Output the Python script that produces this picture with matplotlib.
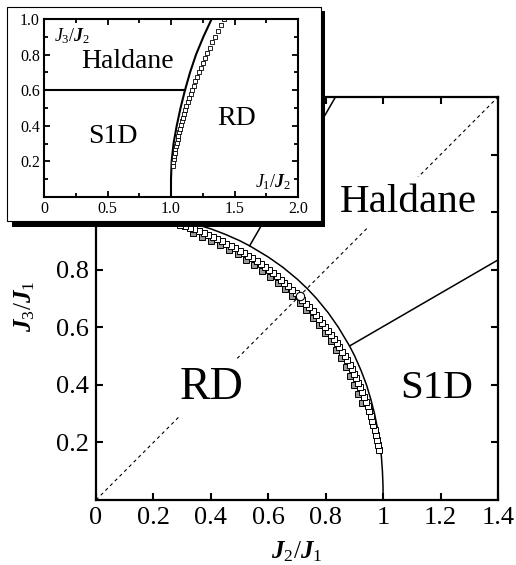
import matplotlib.pyplot as plt
from matplotlib.patches import Rectangle

plt.rcParams['font.family'] = 'Liberation Serif'
plt.rcParams['mathtext.fontset'] = 'custom'
plt.rcParams['mathtext.rm'] = 'Liberation Serif'
plt.rcParams['mathtext.it'] = 'Liberation Serif:italic'
plt.rcParams['mathtext.bf'] = 'Liberation Serif:bold'
plt.rcParams['mathtext.bfit'] = 'Liberation Serif:italic:bold'

# ---- main panel data (J2/J1, J3/J1) ----
# RD boundary (solid curve)
bnd_x = [1.000, 0.9995, 0.9975, 0.994, 0.988, 0.980, 0.970, 0.957, 0.942, 0.923, 0.901, 0.883,
         0.844, 0.809, 0.768, 0.735, 0.700, 0.650, 0.600, 0.535, 0.500, 0.450, 0.400, 0.350,
         0.300, 0.250, 0.200, 0.150, 0.100, 0.050, 0.000]
bnd_y = [0.000, 0.050, 0.100, 0.150, 0.200, 0.250, 0.300, 0.350, 0.400, 0.450, 0.500, 0.535,
         0.600, 0.650, 0.700, 0.735, 0.768, 0.809, 0.844, 0.883, 0.901, 0.923, 0.942, 0.957,
         0.970, 0.980, 0.988, 0.994, 0.9975, 0.9995, 1.000]

# Haldane / S1D boundaries
s1d_x = [0.883, 1.40]
s1d_y = [0.535, 0.834]
hal_x = [0.535, 0.834]
hal_y = [0.883, 1.40]

# numerical points (open squares)
sq_x = [0.985, 0.982, 0.978, 0.974, 0.970, 0.966, 0.961, 0.956, 0.951, 0.946, 0.940, 0.934,
        0.927, 0.921, 0.914, 0.906, 0.899, 0.891, 0.883, 0.875, 0.866, 0.857, 0.848, 0.839,
        0.829, 0.819, 0.809, 0.799, 0.788, 0.777, 0.766, 0.755, 0.743, 0.731, 0.719, 0.707,
        0.695, 0.682, 0.669, 0.656, 0.643, 0.629, 0.616, 0.602, 0.588, 0.574, 0.559, 0.545,
        0.530, 0.515, 0.500, 0.485, 0.469, 0.454, 0.438, 0.423, 0.407, 0.391, 0.375, 0.358,
        0.342, 0.326, 0.309, 0.292, 0.276, 0.259, 0.242, 0.225, 0.208, 0.191, 0.174]
sq_y = [0.174, 0.191, 0.208, 0.225, 0.242, 0.259, 0.276, 0.292, 0.309, 0.326, 0.342, 0.358,
        0.375, 0.391, 0.407, 0.423, 0.438, 0.454, 0.469, 0.485, 0.500, 0.515, 0.530, 0.545,
        0.559, 0.574, 0.588, 0.602, 0.616, 0.629, 0.643, 0.656, 0.669, 0.682, 0.695, 0.707,
        0.719, 0.731, 0.743, 0.755, 0.766, 0.777, 0.788, 0.799, 0.809, 0.819, 0.829, 0.839,
        0.848, 0.857, 0.866, 0.875, 0.883, 0.891, 0.899, 0.906, 0.914, 0.921, 0.927, 0.934,
        0.940, 0.946, 0.951, 0.956, 0.961, 0.966, 0.970, 0.974, 0.978, 0.982, 0.985]

# grey points (second data set, just inside the open squares)
gr_x = [0.926, 0.913, 0.900, 0.885, 0.870, 0.853, 0.835, 0.817, 0.797, 0.776, 0.755, 0.732,
        0.709, 0.684, 0.659, 0.633, 0.607, 0.579, 0.551, 0.522, 0.493, 0.463, 0.432, 0.401,
        0.369, 0.337]
gr_y = [0.337, 0.369, 0.401, 0.432, 0.463, 0.493, 0.522, 0.551, 0.579, 0.607, 0.633, 0.659,
        0.684, 0.709, 0.732, 0.755, 0.776, 0.797, 0.817, 0.835, 0.853, 0.870, 0.885, 0.900,
        0.913, 0.926]

circ_x = [0.71]
circ_y = [0.71]

diag = [0, 1.4]

x_ticks = [0, 0.2, 0.4, 0.6, 0.8, 1.0, 1.2, 1.4]
x_labels = ['0', '0.2', '0.4', '0.6', '0.8', '1', '1.2', '1.4']
y_ticks = [0.2, 0.4, 0.6, 0.8, 1.0, 1.2]
y_labels = ['0.2', '0.4', '0.6', '0.8', '1', '1.2']

# ---- inset data (J1/J2, J3/J2) ----
in_bnd_x = [1.0, 1.0, 1.005, 1.02, 1.045, 1.075, 1.11, 1.15, 1.197, 1.255, 1.32]
in_bnd_y = [0.0, 0.1, 0.2, 0.3, 0.4, 0.5, 0.6, 0.7, 0.8, 0.9, 1.0]
in_h_x = [0.0, 1.11]
in_h_y = [0.6, 0.6]
in_sq_x = [1.015, 1.019, 1.022, 1.026, 1.031, 1.035, 1.040, 1.046, 1.052, 1.058, 1.064, 1.071,
           1.079, 1.086, 1.095, 1.103, 1.113, 1.122, 1.133, 1.143, 1.155, 1.167, 1.179, 1.192,
           1.206, 1.221, 1.236, 1.252, 1.269, 1.287, 1.305, 1.325, 1.346, 1.367, 1.390, 1.414]
in_sq_y = [0.176, 0.194, 0.213, 0.231, 0.249, 0.268, 0.287, 0.306, 0.325, 0.344, 0.364, 0.384,
           0.404, 0.425, 0.445, 0.466, 0.488, 0.510, 0.532, 0.554, 0.577, 0.601, 0.625, 0.649,
           0.675, 0.700, 0.727, 0.754, 0.781, 0.810, 0.839, 0.869, 0.900, 0.933, 0.966, 1.000]
in_x_ticks = [0, 0.5, 1.0, 1.5, 2.0]
in_x_labels = ['0', '0.5', '1.0', '1.5', '2.0']
in_y_ticks = [0.2, 0.4, 0.6, 0.8, 1.0]
in_y_labels = ['0.2', '0.4', '0.6', '0.8', '1.0']

W, H = 516, 565
fig = plt.figure(figsize=(W / 100, H / 100), dpi=100)

# main panel
ax = fig.add_axes([96 / W, 65 / H, 402 / W, 403 / H])
ax.set_zorder(1)
ax.plot(diag, diag, color='black', lw=0.8, ls=(0, (3, 3)))
ax.plot(bnd_x, bnd_y, color='black', lw=1.1)
ax.plot(s1d_x, s1d_y, color='black', lw=1.1)
ax.plot(hal_x, hal_y, color='black', lw=1.1)
ax.plot(gr_x, gr_y, ls='none', marker='s', ms=5, mfc='0.6', mec='black', mew=0.7)
ax.plot(sq_x, sq_y, ls='none', marker='s', ms=5, mfc='white', mec='black', mew=0.7)
ax.plot(circ_x, circ_y, ls='none', marker='o', ms=6, mfc='white', mec='black', mew=0.8)

box = dict(facecolor='white', edgecolor='none', pad=5)
ax.text(1.087, 1.032, 'Haldane', fontsize=29.5, ha='center', va='center', bbox=box)
ax.text(0.403, 0.389, 'RD', fontsize=33, ha='center', va='center', bbox=box)
ax.text(1.186, 0.389, 'S1D', fontsize=29.5, ha='center', va='center', bbox=box)

ax.set_xlim(0, 1.4)
ax.set_ylim(0, 1.4)
ax.set_xticks(x_ticks)
ax.set_xticklabels(x_labels)
ax.set_yticks(y_ticks)
ax.set_yticklabels(y_labels)
ax.tick_params(direction='in', length=5, width=1.5, top=True, right=True,
               labelsize=19, pad=5)
for s in ax.spines.values():
    s.set_linewidth(1.6)
ax.set_xlabel(r'$\mathbfit{J}_2/\mathbfit{J}_1$', fontsize=18)
ax.set_ylabel(r'$\mathbfit{J}_3/\mathbfit{J}_1$', fontsize=18)
ax.xaxis.set_label_coords(0.5, -0.098)
ax.yaxis.set_label_coords(-0.148, 0.48)

# inset frame with shadow
fig.add_artist(Rectangle((12 / W, (H - 227) / H), 313 / W, 216 / H,
                         transform=fig.transFigure, facecolor='black',
                         edgecolor='none', zorder=2))
fig.add_artist(Rectangle((7 / W, (H - 221) / H), 314 / W, 214 / H,
                         transform=fig.transFigure, facecolor='white',
                         edgecolor='black', lw=0.8, zorder=3))

# inset panel
axi = fig.add_axes([44 / W, (H - 197) / H, 254 / W, 178 / H])
axi.set_zorder(4)
axi.plot(in_h_x, in_h_y, color='black', lw=1.5)
axi.plot(in_bnd_x, in_bnd_y, color='black', lw=1.5)
axi.plot(in_sq_x, in_sq_y, ls='none', marker='s', ms=3.2, mfc='white', mec='black', mew=0.6)
axi.text(0.66, 0.76, 'Haldane', fontsize=20, ha='center', va='center')
axi.text(0.54, 0.34, 'S1D', fontsize=20, ha='center', va='center')
axi.text(1.52, 0.44, 'RD', fontsize=20, ha='center', va='center')
axi.text(0.04, 0.96, r'$\mathit{J}_3/\mathbfit{J}_2$', transform=axi.transAxes,
         fontsize=13, ha='left', va='top')
axi.text(0.975, 0.03, r'$\mathit{J}_1/\mathbfit{J}_2$', transform=axi.transAxes,
         fontsize=13, ha='right', va='bottom')
axi.set_xlim(0, 2.0)
axi.set_ylim(0, 1.0)
axi.set_xticks(in_x_ticks)
axi.set_xticklabels(in_x_labels)
axi.set_yticks(in_y_ticks)
axi.set_yticklabels(in_y_labels)
axi.set_xticks([0.25, 0.75, 1.25, 1.75], minor=True)
axi.set_yticks([0.1, 0.3, 0.5, 0.7, 0.9], minor=True)
axi.tick_params(which='both', direction='in', width=1.3, top=True, right=True,
                labelsize=11.5, pad=3)
axi.tick_params(which='major', length=4)
axi.tick_params(which='minor', length=3)
for s in axi.spines.values():
    s.set_linewidth(1.5)

fig.savefig('out.png', dpi=100)
